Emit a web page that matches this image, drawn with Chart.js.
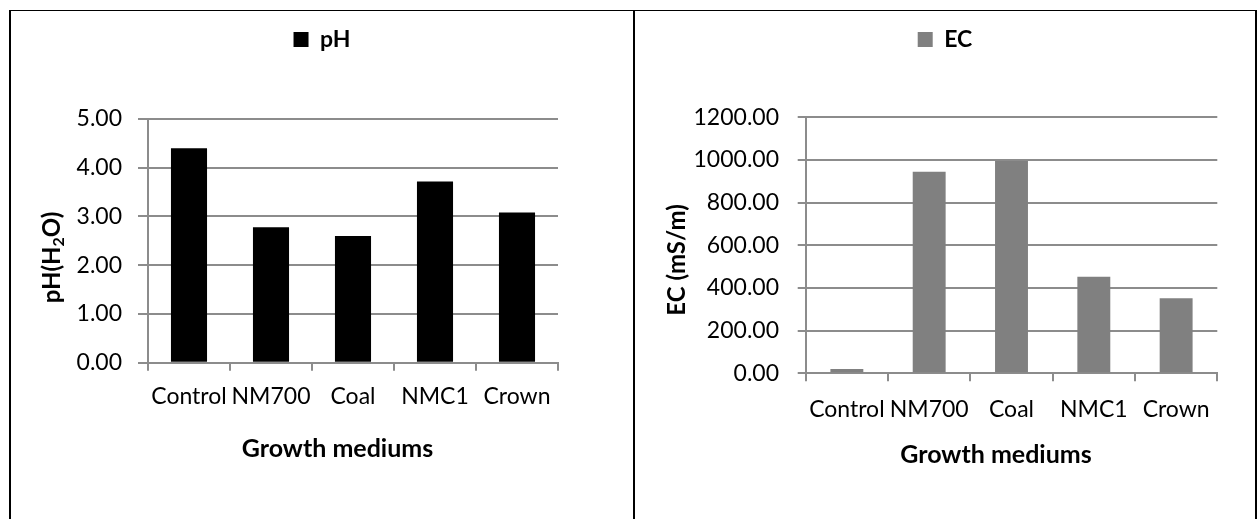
<!DOCTYPE html>
<html>
<head>
<meta charset="utf-8">
<script src="https://cdn.jsdelivr.net/npm/chart.js@4.4.1/dist/chart.umd.min.js"></script>
<style>
  body { margin: 0; background: #fff; width: 1257px; height: 519px; position: relative; overflow: hidden; }
  .line { position: absolute; background: #000; }
  .box { position: absolute; }
</style>
</head>
<body>
<div class="line" style="left:9px;top:10px;width:1248px;height:1px"></div>
<div class="line" style="left:9px;top:10px;width:2px;height:509px"></div>
<div class="line" style="left:633px;top:10px;width:2px;height:509px"></div>
<div class="line" style="left:1255px;top:10px;width:2px;height:509px"></div>

<div class="box" style="left:11px;top:11px;width:622px;height:508px"><canvas id="phChart"></canvas></div>
<div class="box" style="left:635px;top:11px;width:620px;height:508px"><canvas id="ecChart"></canvas></div>

<script>
const mediums = ["Control", "NM700", "Coal", "NMC1", "Crown"];
const phValues = [4.40, 2.78, 2.60, 3.72, 3.08];
const ecValues = [20, 945, 995, 453, 352];
const phTicks = [0, 1, 2, 3, 4, 5];
const ecTicks = [0, 200, 400, 600, 800, 1000, 1200];

const FONT = "Lato, 'Open Sans', sans-serif";
const GRID = "#8c8c8c";

// extra room under the legend, and centre it on the whole canvas
// (layout padding on the right would otherwise pull it left)
const legendSpace = {
  id: "legendSpace",
  beforeLayout(chart, args, opts) {
    const lg = chart.legend;
    if (!lg || lg._spaced) return;
    const fit = lg.fit;
    lg.fit = function () { fit.call(this); this.height += opts.extra; };
    lg._spaced = true;
  },
  beforeDraw(chart) {
    const lg = chart.legend;
    if (!lg) return;
    lg.left = 0;
    lg.right = chart.width;
    lg.width = chart.width;
  }
};

// axis titles sit where excel put them, not centred on the plot area
const axisTitles = {
  id: "axisTitles",
  afterDraw(chart, args, opts) {
    const ctx = chart.ctx;
    ctx.save();
    ctx.fillStyle = "#000";
    ctx.textBaseline = "middle";
    ctx.textAlign = "center";
    ctx.font = `bold ${opts.xSize}px ${FONT}`;
    ctx.fillText(opts.x, opts.xAt[0], opts.xAt[1]);

    const size = opts.ySize;
    ctx.translate(opts.yAt[0], opts.yAt[1]);
    ctx.rotate(-Math.PI / 2);
    ctx.textAlign = "left";
    const subFont = `bold ${Math.round(size * 0.65)}px ${FONT}`;
    const mainFont = `bold ${size}px ${FONT}`;
    let total = 0;
    opts.y.forEach(([txt, sub]) => {
      ctx.font = sub ? subFont : mainFont;
      total += ctx.measureText(txt).width;
    });
    let x = -total / 2;
    opts.y.forEach(([txt, sub]) => {
      ctx.font = sub ? subFont : mainFont;
      ctx.fillText(txt, x, sub ? size * 0.3 : 0);
      x += ctx.measureText(txt).width;
    });
    ctx.restore();
  }
};

function makeChart(id, cfg) {
  const tickFont = { family: FONT, size: 23 };
  return new Chart(document.getElementById(id), {
    type: "bar",
    data: {
      labels: mediums,
      datasets: [{
        label: cfg.label,
        data: cfg.values,
        backgroundColor: cfg.color,
        borderWidth: 0,
        categoryPercentage: 1,
        barPercentage: cfg.barPct
      }]
    },
    plugins: [legendSpace, axisTitles],
    options: {
      responsive: true,
      maintainAspectRatio: false,
      animation: false,
      layout: { padding: cfg.padding },
      plugins: {
        tooltip: { enabled: false },
        legend: {
          position: "top",
          labels: {
            color: "#000",
            font: { family: FONT, size: 23, weight: "bold" },
            boxWidth: 15,
            boxHeight: 15,
            padding: 10
          }
        },
        legendSpace: { extra: cfg.legendExtra },
        axisTitles: {
          xSize: 25,
          ySize: 24,
          x: "Growth mediums",
          xAt: cfg.xTitleAt,
          y: cfg.yTitle,
          yAt: cfg.yTitleAt
        }
      },
      scales: {
        x: {
          grid: { display: true, drawOnChartArea: false, drawTicks: true, tickLength: 8, color: GRID, lineWidth: 2 },
          border: { color: GRID, width: 2 },
          ticks: { color: "#000", font: tickFont, padding: cfg.xPad, maxRotation: 0, autoSkip: false },
          afterFit: s => { s.height = cfg.xHeight; }
        },
        y: {
          min: cfg.ticks[0],
          max: cfg.ticks[cfg.ticks.length - 1],
          afterBuildTicks: s => { s.ticks = cfg.ticks.map(v => ({ value: v })); },
          grid: { color: GRID, lineWidth: 2, tickLength: cfg.yTick },
          border: { color: GRID, width: 2 },
          ticks: { color: "#000", font: tickFont, padding: cfg.yPad, callback: v => Number(v).toFixed(2) },
          afterFit: s => { s.width = cfg.yWidth; }
        }
      }
    }
  });
}

makeChart("phChart", {
  label: "pH",
  values: phValues,
  ticks: phTicks,
  color: "#000000",
  barPct: 0.44,
  padding: { top: 7, right: 75, bottom: 0, left: 0 },
  legendExtra: 58,
  yWidth: 137,
  xHeight: 156.3,
  yTick: 10,
  yPad: 16,
  xPad: 12,
  xTitleAt: [326.5, 437.5],
  yTitle: [["pH(H"], ["2", true], ["O)"]],
  yTitleAt: [41, 246.5]
});

makeChart("ecChart", {
  label: "EC",
  values: ecValues,
  ticks: ecTicks,
  color: "#808080",
  barPct: 0.40,
  padding: { top: 7, right: 37.7, bottom: 0, left: 0 },
  legendExtra: 56.3,
  yWidth: 170.7,
  xHeight: 145.7,
  yTick: 8,
  yPad: 18.7,
  xPad: 14,
  xTitleAt: [361, 444],
  yTitle: [["EC (mS/m)"]],
  yTitleAt: [42, 249]
});
</script>
</body>
</html>
